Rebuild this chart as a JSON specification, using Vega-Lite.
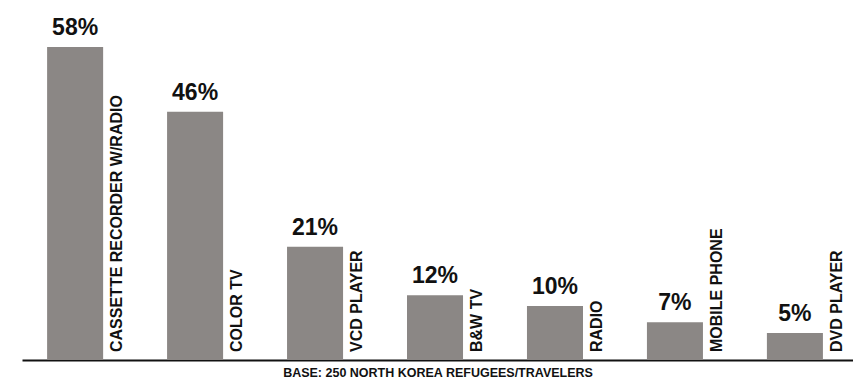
{
  "$schema": "https://vega.github.io/schema/vega-lite/v6.json",
  "width": 831,
  "height": 360,
  "autosize": {"type": "none"},
  "padding": {"left": 22, "top": 0, "right": 0, "bottom": 23},
  "background": "white",
  "config": {"view": {"stroke": null}, "font": "Liberation Sans"},
  "data": {"values": [
    {"item": "CASSETTE RECORDER W/RADIO", "pct": 58, "label": "58%"},
    {"item": "COLOR TV", "pct": 46, "label": "46%"},
    {"item": "VCD PLAYER", "pct": 21, "label": "21%"},
    {"item": "B&W TV", "pct": 12, "label": "12%"},
    {"item": "RADIO", "pct": 10, "label": "10%"},
    {"item": "MOBILE PHONE", "pct": 7, "label": "7%"},
    {"item": "DVD PLAYER", "pct": 5, "label": "5%"}
  ]},
  "encoding": {
    "x": {
      "field": "item", "type": "nominal", "sort": null,
      "scale": {"paddingInner": 0.533, "paddingOuter": 0.23, "align": 0.455},
      "axis": {
        "labels": false, "ticks": false, "domain": true, "domainColor": "#111111", "domainWidth": 2,
        "title": "BASE: 250 NORTH KOREA REFUGEES/TRAVELERS",
        "titleFontSize": 12.5, "titleFontWeight": "bold", "titleColor": "#111111", "titlePadding": 6
      }
    }
  },
  "layer": [
    {
      "mark": {"type": "bar", "color": "#8b8785"},
      "encoding": {
        "y": {"field": "pct", "type": "quantitative", "scale": {"domain": [0, 66.7], "nice": false}, "axis": null}
      }
    },
    {
      "mark": {"type": "text", "fontSize": 23, "fontWeight": "bold", "color": "#111111", "baseline": "alphabetic", "align": "center", "dy": -12},
      "encoding": {
        "y": {"field": "pct", "type": "quantitative"},
        "text": {"field": "label"}
      }
    },
    {
      "mark": {"type": "text", "fontSize": 16, "fontWeight": "bold", "color": "#111111", "angle": 270, "align": "left", "baseline": "alphabetic", "xOffset": 47, "yOffset": -8},
      "encoding": {
        "y": {"datum": 0, "type": "quantitative"},
        "text": {"field": "item"}
      }
    }
  ]
}
